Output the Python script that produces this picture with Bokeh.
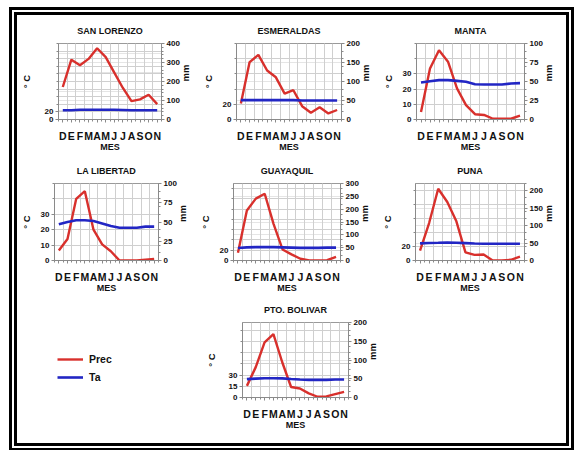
import math
from bokeh.plotting import figure
from bokeh.models import Range1d, LinearAxis, FixedTicker, Grid, Legend, LegendItem
from bokeh.layouts import row, column
from bokeh.embed import file_html
from bokeh.resources import INLINE

months = ["D", "E", "F", "M", "A", "M", "J", "J", "A", "S", "O", "N"]

san_lorenzo_prec = [171, 315, 286, 319, 375, 328, 247, 166, 97, 106, 130, 81]
san_lorenzo_ta = [24.5, 24.5, 25.5, 25.5, 25.5, 25.5, 25.5, 25.0, 24.5, 24.5, 24.5, 24.5]

esmeraldas_prec = [42, 151, 170, 129, 111, 68, 77, 35, 18, 32, 16, 25]
esmeraldas_ta = [25.5, 25.5, 25.5, 25.5, 25.5, 25.5, 25.5, 25.0, 25.0, 25.0, 25.0, 25.0]

manta_prec = [10, 67, 91, 76, 41, 19, 7, 6, 1, 1, 1, 5]
manta_ta = [24.3, 25.2, 25.9, 25.9, 25.4, 24.8, 23.2, 23.0, 23.0, 23.0, 23.7, 23.9]

la_libertad_prec = [13, 28, 80, 90, 40, 21, 12, 0, 0, 0, 1, 2]
la_libertad_ta = [23.5, 25.0, 26.1, 26.1, 25.6, 24.1, 22.4, 21.3, 21.3, 21.3, 22.0, 22.0]

guayaquil_prec = [30, 195, 241, 260, 142, 43, 24, 7, 0, 0, 1, 14]
guayaquil_ta = [24.5, 25.5, 26.0, 26.0, 26.0, 25.5, 25.0, 24.5, 24.5, 24.5, 25.0, 25.0]

puna_prec = [28, 107, 205, 167, 112, 23, 16, 17, 0, 0, 2, 11]
puna_ta = [24.5, 25.0, 25.3, 25.8, 25.3, 24.8, 24.2, 24.0, 24.0, 24.0, 24.0, 24.0]

pto_bolivar_prec = [31, 81, 147, 169, 94, 28, 24, 11, 2, 3, 9, 15]
pto_bolivar_ta = [24.5, 25.2, 25.7, 25.7, 25.5, 24.7, 24.0, 23.5, 23.5, 23.5, 24.0, 24.0]

RED = "#d8302c"
BLUE = "#2226c4"
FONT = "Liberation Sans"
TXT = "#111111"
X = [i + 0.5 for i in range(len(months))]


def panel(name, prec, ta, mm_max, rticks, lticks, grid_step, L, R, T, B, fh, cstand=6):
    p = figure(width=L + 112 + R, height=T + fh + B, toolbar_location=None,
               output_backend="svg", x_range=Range1d(0, 12),
               y_range=Range1d(0, mm_max), x_axis_location=None,
               y_axis_location=None, min_border_left=L, min_border_right=R,
               min_border_top=T, min_border_bottom=B,
               outline_line_color="#9a9a9a", background_fill_color="white",
               border_fill_color="white")
    p.extra_y_ranges = {"t": Range1d(0, mm_max / 2)}
    gticks = [v for v in range(0, int(mm_max) + 1, grid_step)]
    p.add_layout(Grid(dimension=1, ticker=FixedTicker(ticks=gticks),
                      grid_line_color="#cfcfcf", grid_line_width=1))
    p.add_layout(Grid(dimension=0, ticker=FixedTicker(ticks=list(range(13))),
                      grid_line_color="#cfcfcf", grid_line_width=1))

    xa = LinearAxis(ticker=FixedTicker(ticks=X, minor_ticks=list(range(13))),
                    major_label_overrides={v: m for v, m in zip(X, months)},
                    axis_label="MES")
    la = LinearAxis(y_range_name="t",
                    ticker=FixedTicker(ticks=lticks, minor_ticks=[g / 2 for g in gticks]),
                    axis_label="° C")
    ra = LinearAxis(ticker=FixedTicker(ticks=rticks,
                                       minor_ticks=[v for v in range(0, int(mm_max) + 1, grid_step // 2)]),
                    axis_label="mm")
    for a in (xa, la, ra):
        a.axis_line_color = "#8a8a8a"
        a.major_tick_line_color = "#8a8a8a"
        a.minor_tick_line_color = "#8a8a8a"
        a.major_tick_out = 3
        a.major_tick_in = 0
        a.minor_tick_out = 2
        a.minor_tick_in = 0
        a.major_label_text_font = FONT
        a.major_label_text_font_style = "bold"
        a.major_label_text_font_size = "8px"
        a.major_label_text_color = TXT
        a.axis_label_text_font = FONT
        a.axis_label_text_font_style = "bold"
        a.axis_label_text_font_size = "9.5px"
        a.axis_label_text_color = TXT
        a.major_label_standoff = 2
        a.axis_label_standoff = 3
    la.axis_label_standoff = cstand
    if "axis_label_orientation" in ra.properties():
        ra.axis_label_orientation = math.pi / 2
    xa.major_label_text_font_size = "10.5px"
    xa.major_label_standoff = 7
    xa.axis_label_standoff = -3
    xa.axis_label_text_font_size = "9px"
    p.add_layout(xa, "below")
    p.add_layout(la, "left")
    p.add_layout(ra, "right")

    p.line(X, prec, color=RED, line_width=2.4)
    p.line(X, ta, color=BLUE, line_width=2.6, y_range_name="t")

    p.title.text = name
    p.title.align = "center"
    p.title.text_font = FONT
    p.title.text_font_style = "bold"
    p.title.text_font_size = "9px"
    p.title.text_color = TXT
    p.title.standoff = 15
    return p


p_sl = panel("SAN LORENZO", san_lorenzo_prec, san_lorenzo_ta, 400,
             [0, 100, 200, 300, 400], [0, 20], 40, 35, 35, 28, 37, 76, cstand=10)
p_es = panel("ESMERALDAS", esmeraldas_prec, esmeraldas_ta, 200,
             [0, 50, 100, 150, 200], [0, 20], 40, 34, 34, 28, 37, 76)
p_ma = panel("MANTA", manta_prec, manta_ta, 100,
             [0, 25, 50, 75, 100], [0, 10, 20, 30], 20, 33, 42, 28, 37, 76)

p_ll = panel("LA LIBERTAD", la_libertad_prec, la_libertad_ta, 100,
             [0, 25, 50, 75, 100], [0, 10, 20, 30], 20, 31, 36, 27, 34, 78)
p_gu = panel("GUAYAQUIL", guayaquil_prec, guayaquil_ta, 300,
             [0, 50, 100, 150, 200, 250, 300], [0, 20], 40, 35, 35, 27, 34, 78)
p_pu = panel("PUNA", puna_prec, puna_ta, 220,
             [0, 50, 100, 150, 200], [0, 20], 40, 34, 42, 27, 34, 78)

T3, F3, B3 = 27, 75, 46
p_pb = panel("PTO. BOLIVAR", pto_bolivar_prec, pto_bolivar_ta, 200,
             [0, 50, 100, 150, 200], [0, 15, 30], 30, 34, 184, T3, B3, F3, cstand=9)

# legend panel, to the left of PTO. BOLIVAR
lf = figure(width=185, height=T3 + F3 + B3, toolbar_location=None, output_backend="svg",
            x_axis_location=None, y_axis_location=None,
            min_border_left=40, min_border_top=T3, min_border_right=0,
            min_border_bottom=B3, outline_line_color=None,
            x_range=Range1d(0, 12), y_range=Range1d(0, 200))
lf.grid.visible = False
lf.extra_y_ranges = {"t": Range1d(0, 100)}
r1 = lf.line(X, pto_bolivar_prec, color=RED, line_width=2.4, visible=False)
r2 = lf.line(X, pto_bolivar_ta, color=BLUE, line_width=2.6, visible=False,
             y_range_name="t")
leg = Legend(items=[LegendItem(label="Prec", renderers=[r1]),
                    LegendItem(label="Ta", renderers=[r2])],
             location=(0, 12), padding=0, margin=0, spacing=2,
             glyph_width=26, glyph_height=16, label_height=16,
             label_standoff=6, border_line_color=None,
             background_fill_alpha=0,
             label_text_font=FONT, label_text_font_style="bold",
             label_text_font_size="10.5px", label_text_color=TXT)
lf.add_layout(leg)

layout = column(row(p_sl, p_es, p_ma), row(p_ll, p_gu, p_pu), row(lf, p_pb),
                styles={"border": "8px double #000", "background-color": "white",
                        "margin": "7px 0px 0px 9px"})

open("out.html", "w").write(file_html(layout, INLINE))
